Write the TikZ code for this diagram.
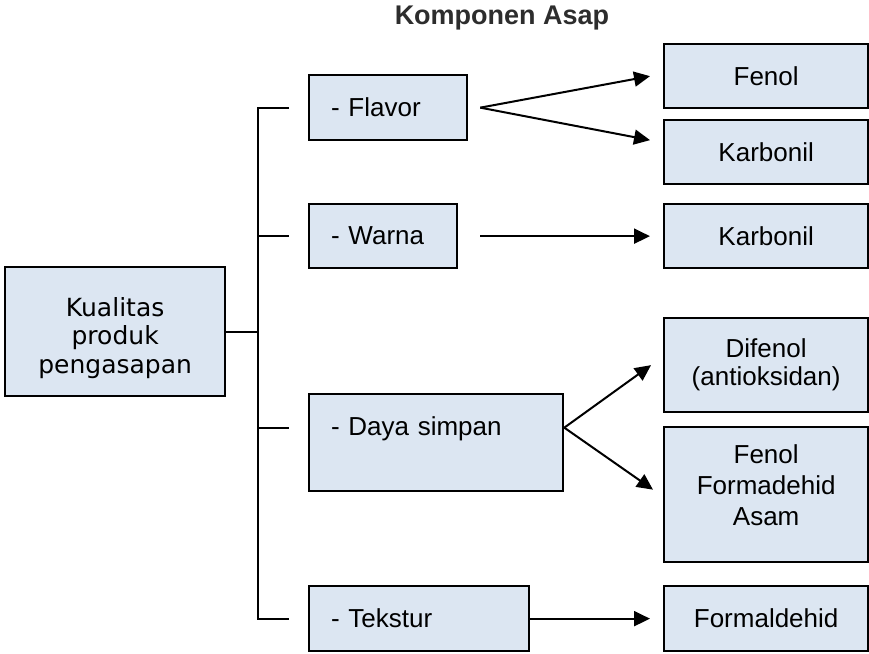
\documentclass[tikz,border=0pt]{standalone}
\usepackage{fontspec}
\setmainfont{Liberation Sans}
\newfontfamily\kualitasfont{DejaVu Sans}
\usepackage{xcolor}
\usepackage{tikz}
\usetikzlibrary{
    arrows.meta
}
\definecolor{boxblue}{RGB}{220,230,242}
\definecolor{titlegray}{RGB}{45,45,45}
\tikzstyle{arrow} = [
    line width=2pt,
    -{Triangle[length=16pt,width=15pt]}
]
\tikzstyle{branch} = [
    line width=2pt
]
\tikzstyle{panel} = [
    draw,
    line width=2.3pt,
    fill=boxblue,
    anchor=north west
]
\tikzstyle{itembox} = [
    panel,
    inner xsep=22pt,
    inner ysep=0pt,
    align=left,
    font=\fontsize{26}{31}\selectfont
]
\tikzstyle{resultbox} = [
    panel,
    inner sep=0pt,
    text width=204pt,
    align=center,
    font=\fontsize{26}{31}\selectfont
]

\begin{document}
\begin{tikzpicture}[x=1pt,y=-1pt]
\useasboundingbox (0,0) rectangle (869,653);
\node[font=\bfseries\fontsize{27}{32}\selectfont, text=titlegray] (title) at (502,18) {Komponen Asap};

% left box
\node[panel, inner sep=0pt, text width=220pt, align=center, text height=49pt, text depth=80pt,
      font=\kualitasfont\fontsize{25}{28.5}\selectfont] (kualitas) at (4,266) {Kualitas\\produk\\pengasapan};

% middle column
\node[itembox, text width=114pt, minimum height=65pt] (flavor)  at (308,74)  {- Flavor};
\node[itembox, text width=104pt, minimum height=64pt] (warna)   at (308,203) {- Warna};
\node[itembox, text width=210pt, text height=41pt, text depth=56pt] (daya) at (308,393) {- Daya simpan};
\node[itembox, text width=176pt, minimum height=65pt] (tekstur) at (308,585) {- Tekstur};

% right column
\node[resultbox, minimum height=64pt] (fenol)     at (663,43)  {Fenol};
\node[resultbox, minimum height=64pt] (karbonilA) at (663,119) {Karbonil};
\node[resultbox, minimum height=64pt] (karbonilB) at (663,203) {Karbonil};
\node[resultbox, minimum height=94pt, font=\fontsize{26}{28}\selectfont] (difenol) at (663,317) {Difenol\\(antioksidan)};
\node[resultbox, text height=36pt, text depth=99pt] (campuran) at (663,426) {Fenol\\Formadehid\\Asam};
\node[resultbox, minimum height=65pt] (formaldehid) at (663,585) {Formaldehid};

% bracket
\coordinate (spine) at (258,330);
\draw[branch] (kualitas.east) -- (kualitas.east -| spine);
\draw[branch] ([xshift=-19pt]flavor.west) -- (flavor.west -| spine) -- (tekstur.west -| spine) -- ([xshift=-19pt]tekstur.west);
\draw[branch] (warna.west -| spine) -- ([xshift=-19pt]warna.west);
\draw[branch] ([yshift=15pt]daya.west -| spine) -- ([yshift=15pt,xshift=-19pt]daya.west);

% arrows
\draw[arrow] ([xshift=12pt]flavor.east) -- ([xshift=-13pt]fenol.west);
\draw[arrow] ([xshift=12pt]flavor.east) -- ([xshift=-13pt,yshift=12pt]karbonilA.west);
\draw[arrow] ([xshift=22pt]warna.east) -- ([xshift=-13pt]karbonilB.west);
\draw[arrow] ([yshift=15pt]daya.east) -- ([xshift=-12pt]difenol.west);
\draw[arrow] ([yshift=15pt]daya.east) -- ([xshift=-10pt,yshift=5pt]campuran.west);
\draw[arrow] (tekstur.east) -- ([xshift=-13pt]formaldehid.west);
\end{tikzpicture}
\end{document}
